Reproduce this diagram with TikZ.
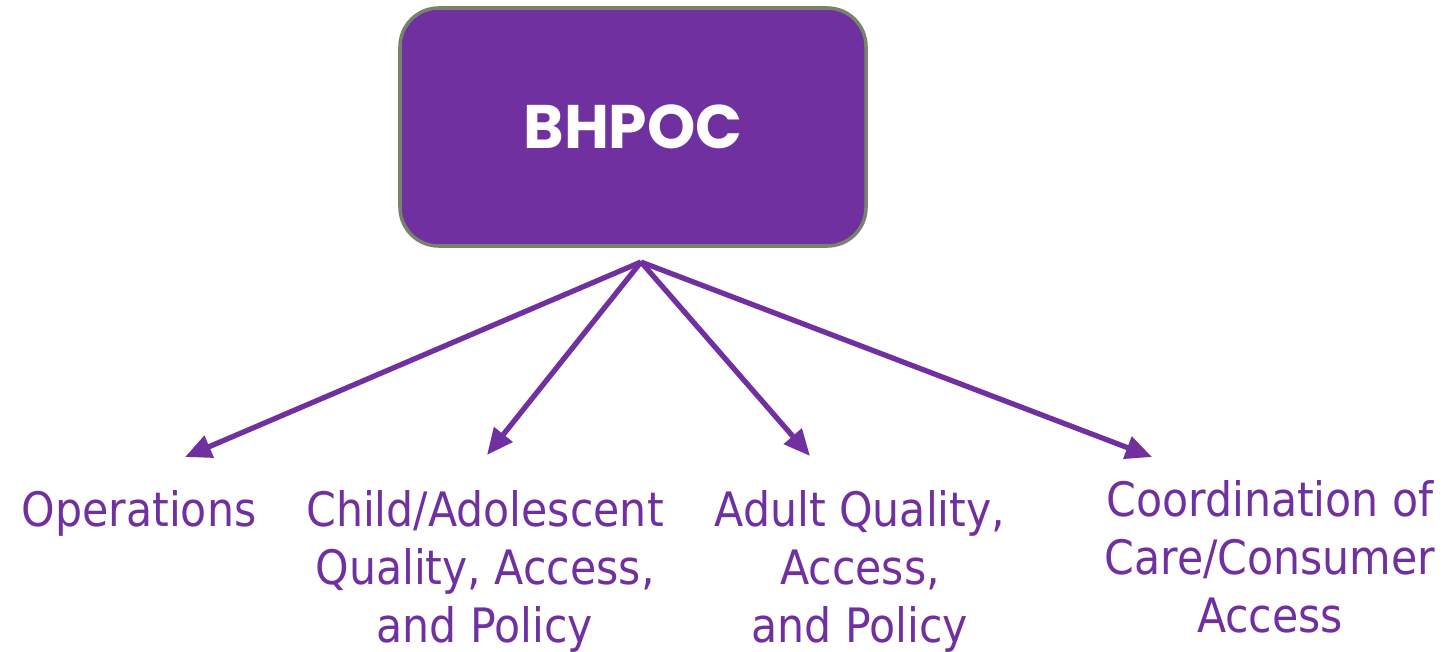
\documentclass[tikz,border=0pt]{standalone}
\usepackage{fontspec}
\setmainfont{DejaVu Sans Condensed}
\newfontfamily\headfont{Poppins}
\usetikzlibrary{arrows.meta}

\definecolor{bhpurple}{HTML}{7030A0}
\definecolor{bhgreen}{HTML}{77846A}

\tikzset{
    headbox/.style={draw=bhgreen, line width=2pt, fill=bhpurple, rounded corners=22pt,
        minimum width=466*0.02cm, minimum height=238*0.02cm, text=white,
        font=\headfont\bfseries\fontsize{35}{40}\selectfont},
    subgroup/.style={text=bhpurple, align=center, inner sep=0pt, anchor=north,
        font=\fontsize{27}{33}\selectfont},
    branch/.style={draw=bhpurple, line width=3pt,
        -{Triangle[length=15pt, width=13pt]}}
}

\begin{document}
\begin{tikzpicture}[x=0.02cm, y=-0.02cm]
                    \useasboundingbox (0, 0) rectangle (1453, 652);

                    %%top box
                    \node[headbox] (bhpoc) at (633, 127){BHPOC};
                    \coordinate (hub) at (641, 262);

                    %%subgroups
                    \node[subgroup] (ops) at (139, 490){Operations};
                    \node[subgroup] (child) at (485, 490)
                        {Child/Adolescent\\Quality, Access,\\and Policy};
                    \node[subgroup] (adult) at (860, 490)
                        {Adult Quality,\\Access,\\and Policy};
                    \node[subgroup] (coord) at (1270, 480)
                        {Coordination of\\Care/Consumer\\Access};

                    %%arrow tips
                    \coordinate (opstip) at (185, 457);
                    \coordinate (childtip) at (487, 455);
                    \coordinate (adulttip) at (810, 456);
                    \coordinate (coordtip) at (1152, 457);

                    %%arrows
                    \draw[branch] (hub) to (opstip);
                    \draw[branch] (hub) to (childtip);
                    \draw[branch] (hub) to (adulttip);
                    \draw[branch] (hub) to (coordtip);
                \end{tikzpicture}
\end{document}
